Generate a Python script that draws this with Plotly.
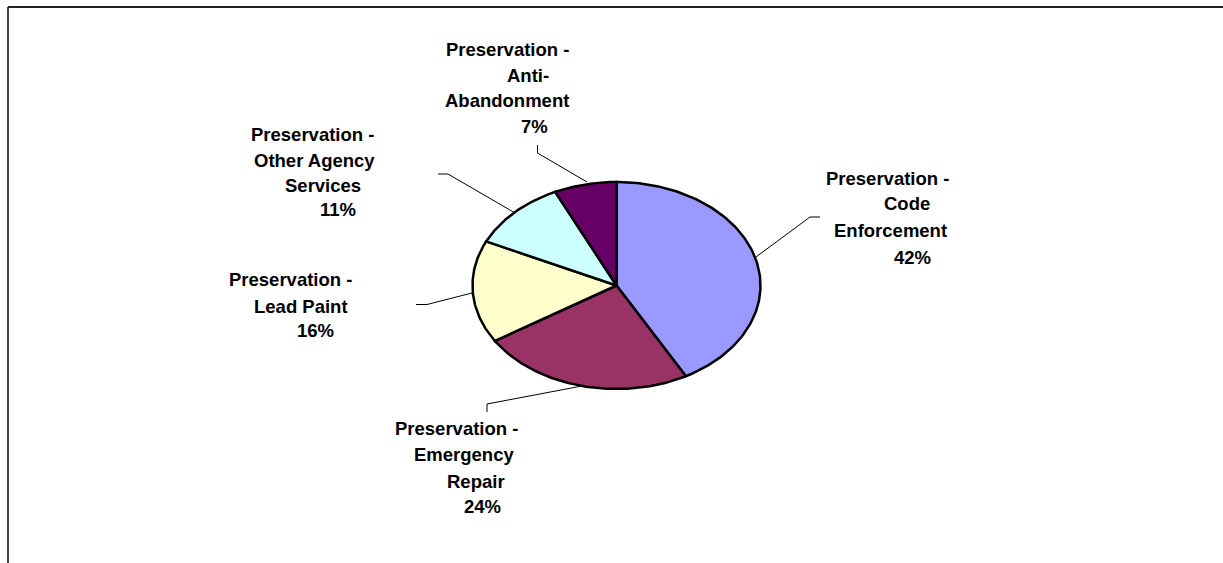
import numpy as np
import plotly.graph_objects as go

# ---------------- data ----------------
categories = [
    "Preservation - Code Enforcement",
    "Preservation - Emergency Repair",
    "Preservation - Lead Paint",
    "Preservation - Other Agency Services",
    "Preservation - Anti-Abandonment",
]
values = [42, 24, 16, 11, 7]
# wrapped label lines (as shown in the chart)
label_lines = [
    ["Preservation -", "Code", "Enforcement"],
    ["Preservation -", "Emergency", "Repair"],
    ["Preservation -", "Lead Paint"],
    ["Preservation -", "Other Agency", "Services"],
    ["Preservation -", "Anti-", "Abandonment"],
]

# ---------------- styles / layout ----------------
colors = ["#9999FF", "#993366", "#FFFFCC", "#CCFFFF", "#660066"]
W, H = 1223, 563
CX, CY = 616.5, 285.5      # pie centre in px
RX, RY = 144.0, 103.5      # ellipse radii in px

# per-label line centres (px) : x for each line, y for each line
label_pos = [
    ([887, 907, 890.5, 912], [178, 203, 230, 257]),
    ([456.5, 463.5, 475.5, 482], [428, 455, 481, 506]),
    ([290, 300.5, 315.5], [279, 306, 330]),
    ([312, 314.5, 323, 337.5], [134, 160, 185, 209]),
    ([507, 527.5, 507, 534.5], [49, 75, 100, 127]),
]
# leader line polylines (px)
leaders = [
    [(820, 217), (810, 217), (756, 257)],
    [(487, 412), (487, 404), (582, 386)],
    [(416, 304.5), (427, 304.5), (472, 293)],
    [(438, 174), (448, 174), (515, 213)],
    [(537.5, 145), (537.5, 153), (587, 182)],
]

fig = go.Figure()

# pie slices on unit circle; axes scaled so circle becomes the ellipse
total = float(sum(values))
start = 0.0
for cat, v, col in zip(categories, values, colors):
    frac = v / total
    th = np.linspace(start, start + frac * 2 * np.pi, max(int(frac * 400), 8))
    xs = np.concatenate([[0], np.sin(th), [0]])
    ys = np.concatenate([[0], np.cos(th), [0]])
    fig.add_trace(go.Scatter(
        x=xs, y=ys, mode="lines", fill="toself", fillcolor=col,
        line=dict(color="black", width=2.5), name=cat, hoverinfo="name",
        showlegend=False,
    ))
    start += frac * 2 * np.pi

def px(x):
    return x / W

def py(y):
    return 1 - y / H

annotations = []
font = dict(family="Arial, Liberation Sans, sans-serif", size=18.5, color="black")
for lines, v, (xs_, ys_) in zip(label_lines, values, label_pos):
    texts = lines + [f"{v}%"]
    for t, x, y in zip(texts, xs_, ys_):
        annotations.append(dict(
            text=f"<b>{t}</b>", x=px(x), y=py(y), xref="paper", yref="paper",
            xanchor="center", yanchor="middle", showarrow=False, font=font,
        ))

shapes = []
for pts in leaders:
    for (x0, y0), (x1, y1) in zip(pts[:-1], pts[1:]):
        shapes.append(dict(type="line", xref="paper", yref="paper",
                           x0=px(x0), y0=py(y0), x1=px(x1), y1=py(y1),
                           line=dict(color="black", width=1)))
# chart frame (top and left edges visible)
shapes.append(dict(type="line", xref="paper", yref="paper",
                   x0=px(8), y0=py(7), x1=px(W), y1=py(7),
                   line=dict(color="#222222", width=2)))
shapes.append(dict(type="line", xref="paper", yref="paper",
                   x0=px(8), y0=py(7), x1=px(8), y1=py(H),
                   line=dict(color="#404040", width=2)))

fig.update_layout(
    width=W, height=H,
    margin=dict(l=0, r=0, t=0, b=0),
    paper_bgcolor="white", plot_bgcolor="white",
    xaxis=dict(range=[-CX / RX, (W - CX) / RX], visible=False, fixedrange=True),
    yaxis=dict(range=[-(H - CY) / RY, CY / RY], visible=False, fixedrange=True),
    annotations=annotations, shapes=shapes, showlegend=False,
)

fig.write_html("out.html")
